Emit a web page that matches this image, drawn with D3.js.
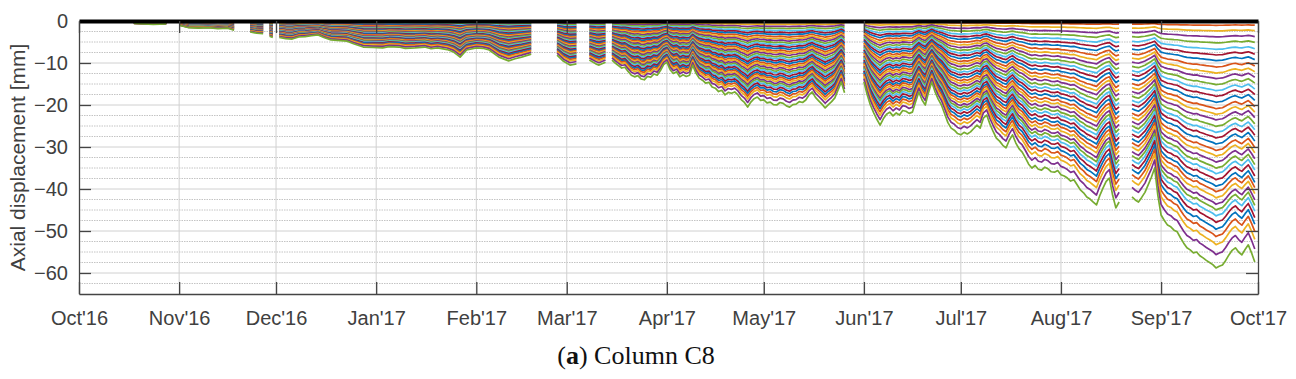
<!DOCTYPE html>
<html>
<head>
<meta charset="utf-8">
<script src="https://cdn.jsdelivr.net/npm/d3@7"></script>
<style>
    body { margin: 0; background: #fff; }
    svg text { font-family: "Liberation Sans", Arial, Helvetica, sans-serif; fill: #404040; }
    .caption { font-family: "Liberation Serif", "Times New Roman", serif; fill: #111; }
</style>
</head>
<body>
<div id="chart"></div>
<script>
"use strict"

// month ticks of the x axis and their labels
const tickMonths = ["2016-10-01", "2016-11-01", "2016-12-01", "2017-01-01", "2017-02-01", "2017-03-01",
    "2017-04-01", "2017-05-01", "2017-06-01", "2017-07-01", "2017-08-01", "2017-09-01", "2017-10-01"]
const tickLabels = ["Oct'16", "Nov'16", "Dec'16", "Jan'17", "Feb'17", "Mar'17", "Apr'17",
    "May'17", "Jun'17", "Jul'17", "Aug'17", "Sep'17", "Oct'17"]
const yTicks = [0, -10, -20, -30, -40, -50, -60]

// displacement of the deepest sensor [mm]; null = no data
const deepestReadings = [
    ["2016-10-18", -0.6], ["2016-10-21", -0.7], ["2016-10-24", -0.8], ["2016-10-28", -0.7],
    ["2016-10-30", null],
    ["2016-11-01", -1.0], ["2016-11-04", -1.6], ["2016-11-07", -1.7], ["2016-11-10", -1.6],
    ["2016-11-13", -1.8], ["2016-11-16", -1.7], ["2016-11-18", -2.2],
    ["2016-11-20", null],
    ["2016-11-23", -2.6], ["2016-11-25", -2.9], ["2016-11-27", -3.0],
    ["2016-11-28", null],
    ["2016-11-29", -3.6], ["2016-11-30", -3.9],
    ["2016-12-01", null],
    ["2016-12-02", -3.9], ["2016-12-04", -4.2], ["2016-12-06", -4.3], ["2016-12-08", -3.8],
    ["2016-12-10", -3.7], ["2016-12-12", -3.5], ["2016-12-14", -3.3], ["2016-12-16", -4.0],
    ["2016-12-18", -4.5], ["2016-12-20", -4.6], ["2016-12-23", -4.8], ["2016-12-25", -5.4],
    ["2016-12-28", -6.2], ["2016-12-31", -6.3], ["2017-01-03", -6.4], ["2017-01-05", -6.1],
    ["2017-01-08", -6.2], ["2017-01-10", -6.5], ["2017-01-13", -6.4], ["2017-01-16", -6.2],
    ["2017-01-18", -6.6], ["2017-01-20", -6.4], ["2017-01-23", -6.8], ["2017-01-25", -7.4],
    ["2017-01-27", -8.6], ["2017-01-29", -6.9], ["2017-02-01", -6.4], ["2017-02-03", -6.5],
    ["2017-02-05", -6.9], ["2017-02-08", -8.6], ["2017-02-11", -9.5], ["2017-02-13", -9.0],
    ["2017-02-15", -8.6], ["2017-02-18", -7.9],
    ["2017-02-21", null],
    ["2017-02-26", -8.1], ["2017-02-28", -9.6], ["2017-03-02", -10.5], ["2017-03-04", -10.2],
    ["2017-03-06", null],
    ["2017-03-08", -9.3], ["2017-03-10", -10.2], ["2017-03-11", -10.5], ["2017-03-13", -9.8],
    ["2017-03-14", null],
    ["2017-03-15", -9.3], ["2017-03-16", -10.0], ["2017-03-17", -10.6], ["2017-03-18", -11.2],
    ["2017-03-19", -11.0], ["2017-03-20", -12.0], ["2017-03-21", -12.9], ["2017-03-22", -13.3],
    ["2017-03-23", -13.0], ["2017-03-24", -13.8], ["2017-03-25", -14.0], ["2017-03-26", -13.2],
    ["2017-03-27", -13.4], ["2017-03-28", -12.6], ["2017-03-29", -12.9], ["2017-03-30", -11.8],
    ["2017-03-31", -10.4], ["2017-04-01", -9.8], ["2017-04-02", -11.6], ["2017-04-03", -12.5],
    ["2017-04-04", -12.1], ["2017-04-05", -13.3], ["2017-04-06", -12.8], ["2017-04-07", -13.2],
    ["2017-04-08", -12.9], ["2017-04-09", -10.5], ["2017-04-10", -12.4], ["2017-04-11", -13.6],
    ["2017-04-12", -14.1], ["2017-04-13", -14.8], ["2017-04-14", -14.6], ["2017-04-15", -15.7],
    ["2017-04-16", -16.0], ["2017-04-17", -16.8], ["2017-04-18", -16.5], ["2017-04-19", -17.6],
    ["2017-04-20", -17.0], ["2017-04-21", -17.2], ["2017-04-22", -16.9], ["2017-04-23", -17.6],
    ["2017-04-24", -18.7], ["2017-04-25", -19.4], ["2017-04-26", -20.5], ["2017-04-27", -19.3],
    ["2017-04-28", -18.5], ["2017-04-29", -18.1], ["2017-04-30", -18.9], ["2017-05-01", -18.8],
    ["2017-05-02", -19.5], ["2017-05-03", -19.3], ["2017-05-04", -19.9], ["2017-05-05", -20.0],
    ["2017-05-06", -19.4], ["2017-05-07", -19.6], ["2017-05-08", -20.2], ["2017-05-09", -20.5],
    ["2017-05-10", -19.9], ["2017-05-11", -19.8], ["2017-05-12", -19.2], ["2017-05-13", -19.4],
    ["2017-05-14", -18.8], ["2017-05-15", -17.6], ["2017-05-16", -16.9], ["2017-05-17", -18.2],
    ["2017-05-18", -19.0], ["2017-05-19", -19.8], ["2017-05-20", -20.7], ["2017-05-21", -19.9],
    ["2017-05-22", -19.2], ["2017-05-23", -18.3], ["2017-05-24", -16.4], ["2017-05-25", -14.5],
    ["2017-05-26", -17.1],
    ["2017-05-29", null],
    ["2017-06-01", -14.5], ["2017-06-02", -17.5], ["2017-06-03", -20.0], ["2017-06-04", -21.8],
    ["2017-06-05", -23.4], ["2017-06-06", -24.8], ["2017-06-07", -23.3], ["2017-06-08", -22.2],
    ["2017-06-09", -21.7], ["2017-06-10", -22.6], ["2017-06-11", -21.9], ["2017-06-12", -22.4],
    ["2017-06-13", -21.3], ["2017-06-14", -21.5], ["2017-06-15", -22.0], ["2017-06-16", -21.7],
    ["2017-06-17", -19.2], ["2017-06-18", -16.9], ["2017-06-19", -18.8], ["2017-06-20", -20.0],
    ["2017-06-21", -17.0], ["2017-06-22", -14.5], ["2017-06-23", -16.8], ["2017-06-24", -18.6],
    ["2017-06-25", -20.0], ["2017-06-26", -22.1], ["2017-06-27", -24.2], ["2017-06-28", -25.5],
    ["2017-06-29", -26.0], ["2017-06-30", -26.8], ["2017-07-01", -27.1], ["2017-07-02", -26.5],
    ["2017-07-03", -26.9], ["2017-07-04", -26.4], ["2017-07-05", -25.6], ["2017-07-06", -24.8],
    ["2017-07-07", -25.5], ["2017-07-08", -23.1], ["2017-07-09", -22.4], ["2017-07-10", -24.5],
    ["2017-07-11", -26.3], ["2017-07-12", -27.9], ["2017-07-13", -28.6], ["2017-07-14", -29.6],
    ["2017-07-15", -30.2], ["2017-07-16", -28.4], ["2017-07-17", -27.1], ["2017-07-18", -29.0],
    ["2017-07-19", -30.4], ["2017-07-20", -31.2], ["2017-07-21", -32.6], ["2017-07-22", -34.1],
    ["2017-07-23", -35.0], ["2017-07-24", -34.4], ["2017-07-25", -35.3], ["2017-07-26", -35.5],
    ["2017-07-27", -34.8], ["2017-07-28", -35.2], ["2017-07-29", -35.9], ["2017-07-30", -36.0],
    ["2017-07-31", -35.6], ["2017-08-01", -36.6], ["2017-08-02", -36.9], ["2017-08-03", -37.4],
    ["2017-08-04", -38.1], ["2017-08-05", -37.8], ["2017-08-06", -39.0], ["2017-08-07", -40.2],
    ["2017-08-08", -40.9], ["2017-08-09", -41.9], ["2017-08-10", -42.4], ["2017-08-11", -43.1],
    ["2017-08-12", -43.8], ["2017-08-13", -41.6], ["2017-08-14", -39.8], ["2017-08-15", -38.2],
    ["2017-08-16", -37.4], ["2017-08-17", -41.5], ["2017-08-18", -44.5], ["2017-08-19", -43.1],
    ["2017-08-21", null],
    ["2017-08-23", -41.9], ["2017-08-24", -42.6], ["2017-08-25", -43.1], ["2017-08-26", -42.0],
    ["2017-08-27", -40.8], ["2017-08-28", -39.0], ["2017-08-29", -37.2], ["2017-08-30", -35.0],
    ["2017-08-31", -41.5], ["2017-09-01", -46.2], ["2017-09-02", -47.5], ["2017-09-03", -48.6],
    ["2017-09-04", -49.0], ["2017-09-05", -49.8], ["2017-09-06", -50.2], ["2017-09-07", -51.6],
    ["2017-09-08", -52.9], ["2017-09-09", -54.0], ["2017-09-10", -54.5], ["2017-09-11", -55.2],
    ["2017-09-12", -55.0], ["2017-09-13", -55.9], ["2017-09-14", -56.4], ["2017-09-15", -57.0],
    ["2017-09-16", -57.5], ["2017-09-17", -58.0], ["2017-09-18", -58.8], ["2017-09-19", -58.4],
    ["2017-09-20", -58.1], ["2017-09-21", -57.0], ["2017-09-22", -55.7], ["2017-09-23", -54.6],
    ["2017-09-24", -54.0], ["2017-09-25", -55.0], ["2017-09-26", -55.7], ["2017-09-27", -54.4],
    ["2017-09-28", -53.3], ["2017-09-29", -55.2], ["2017-09-30", -57.4]
]

// displacement of every sensor on the last day [mm], top sensor first
const finalProfile = [0, -1.0, -2.3, -3.7, -5.1, -6.6, -7.9, -9.2, -10.7, -12.1,
    -13.4, -14.8, -16.2, -17.5, -18.9, -20.4, -21.7, -23.0, -24.5, -25.9,
    -27.2, -28.6, -30.1, -31.4, -32.8, -34.2, -35.5, -36.9, -38.4, -39.7,
    -41.1, -42.6, -43.9, -45.3, -46.8, -48.4, -50.1, -52.0, -54.3, -57.4]

// matlab default line colours
const lineColors = ["#0072BD", "#D95319", "#EDB120", "#7E2F8E", "#77AC30", "#4DBEEE", "#A2142F"]

const WIDTH = 1296
const HEIGHT = 379
const BOX = { left: 79, right: 1258, top: 21, bottom: 294 }

const parse = d3.utcParse("%Y-%m-%d")

const svg = d3.select("#chart").append("svg")
    .attr("width", WIDTH).attr("height", HEIGHT)

const x = d3.scaleUtc()
    .domain([parse(tickMonths[0]), parse(tickMonths[tickMonths.length - 1])])
    .range([BOX.left, BOX.right])
const y = d3.scaleLinear().domain([-65, 0]).range([BOX.bottom, BOX.top])

// grid: dotted minor lines every 2.5 mm, solid major ones every 10 mm
const minorY = d3.range(-62.5, 0, 2.5).filter((v) => v % 10 !== 0)
const grid = svg.append("g")
grid.selectAll(".minor").data(minorY).join("line")
    .attr("x1", BOX.left).attr("x2", BOX.right)
    .attr("y1", (d) => y(d)).attr("y2", (d) => y(d))
    .attr("stroke", "#c4c4c4").attr("stroke-dasharray", "1.5,1")
grid.selectAll(".major").data(yTicks.slice(1)).join("line")
    .attr("x1", BOX.left).attr("x2", BOX.right)
    .attr("y1", (d) => y(d)).attr("y2", (d) => y(d))
    .attr("stroke", "#d0d0d0")
grid.selectAll(".vert").data(tickMonths.slice(1, -1)).join("line")
    .attr("x1", (d) => x(parse(d))).attr("x2", (d) => x(parse(d)))
    .attr("y1", BOX.top).attr("y2", BOX.bottom)
    .attr("stroke", "#d0d0d0")

// one line per sensor, scaled from the deepest sensor
const deepestLast = finalProfile[finalProfile.length - 1]
const lineGen = d3.line()
    .defined((d) => d.v !== null)
    .x((d) => x(d.t)).y((d) => y(d.v))

const lines = svg.append("g")
finalProfile.forEach((final, k) => {
    const share = final / deepestLast
    const series = deepestReadings.map(([day, v]) => ({ t: parse(day), v: v === null ? null : v * share }))
    lines.append("path")
        .attr("d", lineGen(series))
        .attr("fill", "none")
        .attr("stroke", lineColors[k % lineColors.length])
        .attr("stroke-width", 1.7)
        .attr("stroke-linejoin", "round")
})

// axes, ticks pointing into the box like matlab
const monthDates = tickMonths.map(parse)
const xAxisBottom = d3.axisBottom(x).tickValues(monthDates)
    .tickFormat((d, i) => tickLabels[i]).tickSizeInner(-12).tickSizeOuter(0).tickPadding(17)
const xAxisTop = d3.axisTop(x).tickValues(monthDates).tickFormat("")
    .tickSizeInner(-12).tickSizeOuter(0)
const yAxisLeft = d3.axisLeft(y).tickValues(yTicks).tickFormat(d3.format("d"))
    .tickSizeInner(-12).tickSizeOuter(0).tickPadding(11)
const yAxisRight = d3.axisRight(y).tickValues(yTicks).tickFormat("")
    .tickSizeInner(-12).tickSizeOuter(0)

const gBottom = svg.append("g").attr("transform", "translate(0," + BOX.bottom + ")").call(xAxisBottom)
const gLeft = svg.append("g").attr("transform", "translate(" + BOX.left + ",0)").call(yAxisLeft)
const gRight = svg.append("g").attr("transform", "translate(" + BOX.right + ",0)").call(yAxisRight)
const gTop = svg.append("g").attr("transform", "translate(0," + BOX.top + ")").call(xAxisTop)

for (const g of [gBottom, gLeft, gRight, gTop]) {
    g.select(".domain").attr("stroke", "#444").attr("stroke-width", 1.3)
    g.selectAll(".tick line").attr("stroke", "#444").attr("stroke-width", 1.3)
    g.selectAll(".tick text").attr("font-size", 20).attr("fill", "#404040")
        .attr("font-family", "'Liberation Sans', Arial, sans-serif")
}
// the zero line on top is drawn thick and black
gTop.select(".domain").attr("stroke", "#000").attr("stroke-width", 4)

// labels
svg.append("text")
    .attr("transform", "translate(25," + ((BOX.top + BOX.bottom) / 2) + ") rotate(-90)")
    .attr("text-anchor", "middle")
    .attr("font-size", 21)
    .text("Axial displacement [mm]")

const caption = svg.append("text").attr("class", "caption")
    .attr("x", 636).attr("y", 364).attr("text-anchor", "middle").attr("font-size", 26)
caption.append("tspan").text("(")
caption.append("tspan").attr("font-weight", "bold").text("a")
caption.append("tspan").text(") Column C8")
</script>
</body>
</html>
